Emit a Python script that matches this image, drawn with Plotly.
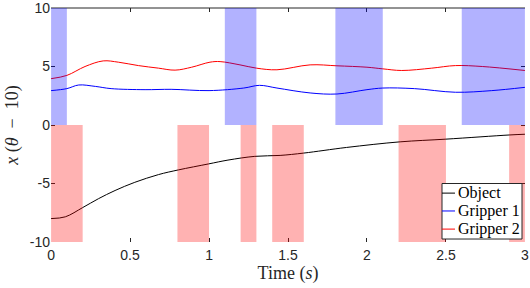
import plotly.graph_objects as go

# object trajectory (black)
t_obj = [0, 0.09, 0.2, 0.3, 0.405, 0.53, 0.68, 0.806, 0.996, 1.12, 1.29, 1.45,
         1.6, 1.87, 2.21, 2.5, 2.905, 3.0]
x_obj = [-8.0, -7.85, -7.06, -6.3, -5.6, -4.9, -4.24, -3.84, -3.33, -3.0, -2.68,
         -2.6, -2.4, -1.92, -1.44, -1.21, -0.85, -0.79]

# gripper 1 (blue)
t_g1 = [0, 0.1, 0.175, 0.28, 0.38, 0.595, 0.76, 1.0, 1.22, 1.32, 1.43, 1.64,
        1.81, 2.0, 2.1, 2.3, 2.56, 2.79, 3.0]
x_g1 = [2.94, 3.11, 3.42, 3.3, 3.11, 3.02, 3.05, 2.94, 3.16, 3.39, 3.16, 2.74,
        2.65, 3.02, 3.16, 3.11, 2.8, 2.94, 3.22]

# gripper 2 (red)
t_g2 = [0, 0.1, 0.215, 0.33, 0.426, 0.553, 0.68, 0.785, 0.89, 1.006, 1.07,
        1.196, 1.3, 1.43, 1.64, 1.81, 2.0, 2.1, 2.22, 2.41, 2.56, 2.73, 3.0]
x_g2 = [3.96, 4.24, 5.0, 5.48, 5.37, 5.08, 4.86, 4.69, 4.94, 5.37, 5.42, 5.14,
        4.86, 4.72, 5.14, 5.06, 4.94, 4.8, 4.66, 4.86, 5.08, 5.0, 4.66]

# shaded phases
blue_start = [0, 1.1, 1.8, 2.6]
blue_end = [0.1, 1.3, 2.1, 3.0]
red_start = [0, 0.8, 1.2, 1.4, 2.2, 2.9]
red_end = [0.2, 1.0, 1.3, 1.6, 2.5, 3.0]

x_ticks = [0, 0.5, 1, 1.5, 2, 2.5, 3]
x_ticktext = ['0', '0.5', '1', '1.5', '2', '2.5', '3']
y_ticks = [-10, -5, 0, 5, 10]
y_ticktext = ['-10', '-5', '0', '5', '10']

names = ['Object', 'Gripper 1', 'Gripper 2']
colors = ['black', 'blue', 'red']

serif = 'Liberation Serif'
sans = 'Liberation Sans'
dark = '#262626'

fig = go.Figure()
for t, v, n, c in zip([t_obj, t_g1, t_g2], [x_obj, x_g1, x_g2], names, colors):
  fig.add_trace(go.Scatter(x=t, y=v, name=n, mode='lines', showlegend=False,
                           line=dict(color=c, width=1, shape='spline')))

# top border of the box (the other sides are hidden under the patches)
fig.add_shape(type='line', xref='paper', yref='paper', x0=0, x1=1, y0=1, y1=1,
              line=dict(color=dark, width=1), layer='below')

for a, b in zip(blue_start, blue_end):
  fig.add_shape(type='rect', xref='x', yref='y', x0=a, x1=b, y0=0, y1=10,
                fillcolor='rgba(0,0,255,0.3)', line_width=0, layer='above')
for a, b in zip(red_start, red_end):
  fig.add_shape(type='rect', xref='x', yref='y', x0=a, x1=b, y0=-10, y1=0,
                fillcolor='rgba(255,0,0,0.3)', line_width=0, layer='above')

# matlab-style boxed legend in the lower right corner
lx0, lx1, ly0, ly1 = 0.8249, 0.9937, 0.0127, 0.25
fig.add_shape(type='rect', xref='paper', yref='paper', x0=lx0, x1=lx1, y0=ly0, y1=ly1,
              fillcolor='white', line=dict(color=dark, width=1), layer='above')
row_y = [0.2089, 0.1326, 0.0551]
for n, c, ry in zip(names, colors, row_y):
  fig.add_shape(type='line', xref='paper', yref='paper', x0=lx0, x1=0.8523,
                y0=ry, y1=ry, line=dict(color=c, width=1), layer='above')
  fig.add_annotation(xref='paper', yref='paper', x=0.8544, y=ry, text=n,
                     showarrow=False, xanchor='left', yanchor='middle',
                     font=dict(family=serif, size=16, color='black'))

axis_common = dict(showline=False, mirror='ticks',
                   ticks='inside', ticklen=4, tickcolor=dark, showgrid=False,
                   zeroline=False, automargin=False, ticklabeloverflow='allow',
                   tickfont=dict(family=sans, size=14, color=dark))

fig.update_xaxes(range=[-0.0005, 3.0005], tickvals=x_ticks, ticktext=x_ticktext,
                 ticklabelstandoff=3,
                 title=dict(text='Time (<i>s</i>)', standoff=4,
                            font=dict(family=serif, size=18, color=dark)),
                 **axis_common)
fig.update_yaxes(range=[-10.002, 10.002], tickvals=y_ticks, ticktext=y_ticktext,
                 title=dict(text='<i>x</i> (<i>θ</i>  −  10)', standoff=6,
                            font=dict(family=serif, size=18, color=dark)),
                 **axis_common)

fig.update_layout(
  width=530, height=288,
  margin=dict(l=51, r=5, t=8, b=46),
  plot_bgcolor='white', paper_bgcolor='white',
  showlegend=False,
)

fig.write_html('out.html', config={'displayModeBar': False},
               post_script="document.body.style.margin='0';")
